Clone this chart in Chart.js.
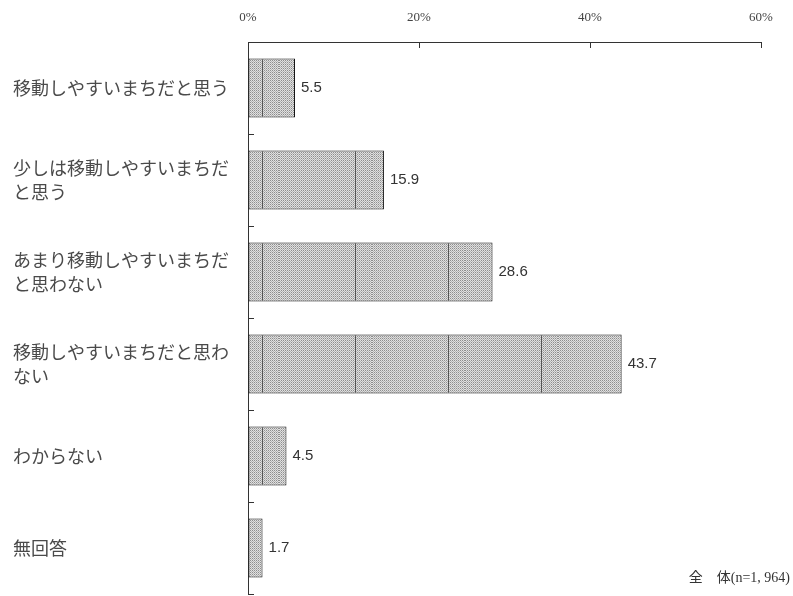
<!DOCTYPE html>
<html>
<head>
<meta charset="utf-8">
<script src="https://cdn.jsdelivr.net/npm/chart.js@4.4.1/dist/chart.umd.min.js"></script>
<style>
  html, body { margin: 0; padding: 0; background: #ffffff; }
  #wrap { width: 793px; height: 596px; position: relative; }
</style>
</head>
<body>
<div id="wrap"><canvas id="c" width="793" height="596"></canvas></div>
<script>
// ---- Data ----
const categories = [
  ["移動しやすいまちだと思う"],
  ["少しは移動しやすいまちだ", "と思う"],
  ["あまり移動しやすいまちだ", "と思わない"],
  ["移動しやすいまちだと思わ", "ない"],
  ["わからない"],
  ["無回答"]
];
const values = [5.5, 15.9, 28.6, 43.7, 4.5, 1.7];
const xTicks = [0, 20, 40, 60];
const caption = "全　体(n=1, 964)";

// ---- Pattern fill (fine gray dots with periodic vertical lines) ----
function makePattern(ctx) {
  const tw = 93, th = 2;
  const t = document.createElement('canvas');
  t.width = tw; t.height = th;
  const g = t.getContext('2d');
  g.fillStyle = '#e0e0e0';
  g.fillRect(0, 0, tw, th);
  g.fillStyle = '#8e8e8e';
  for (let x = 0; x < tw; x += 2) {
    g.fillRect(x, 0, 1, 1);
  }
  g.fillStyle = '#b4b4b4';
  for (let x = 1; x < tw; x += 2) {
    g.fillRect(x, 1, 1, 1);
  }
  g.fillStyle = '#555555';
  g.fillRect(76, 0, 1, th);
  return ctx.createPattern(t, 'repeat');
}

const canvas = document.getElementById('c');
const ctx = canvas.getContext('2d');
const pattern = makePattern(ctx);

const decorPlugin = {
  id: 'decor',
  afterDraw(chart) {
    const c = chart.ctx;
    const xs = chart.scales.x, ys = chart.scales.y;
    const area = chart.chartArea;
    c.save();
    c.strokeStyle = '#333333';
    c.lineWidth = 1;
    // inward ticks on top axis
    xTicks.forEach(v => {
      const px = Math.round(xs.getPixelForValue(v)) + 0.5;
      c.beginPath();
      c.moveTo(px, area.top);
      c.lineTo(px, area.top + 6);
      c.stroke();
    });
    // inward ticks on category axis (band boundaries)
    for (let i = 0; i <= categories.length; i++) {
      const py = Math.round(ys.getPixelForValue(i - 0.5)) + 0.5;
      c.beginPath();
      c.moveTo(area.left, py);
      c.lineTo(area.left + 6, py);
      c.stroke();
    }
    // value labels
    const meta = chart.getDatasetMeta(0);
    c.fillStyle = '#333333';
    c.font = '15px "Liberation Sans", Arial, sans-serif';
    c.textAlign = 'left';
    c.textBaseline = 'middle';
    meta.data.forEach((bar, i) => {
      c.fillText(values[i].toFixed(1), bar.x + 6, bar.y);
    });
    // caption
    c.fillStyle = '#333333';
    c.font = '14px "Liberation Serif", "Noto Sans CJK JP", serif';
    c.textAlign = 'right';
    c.textBaseline = 'middle';
    c.fillText(caption, 790, 578);
    c.restore();
  }
};

new Chart(canvas, {
  type: 'bar',
  data: {
    labels: categories,
    datasets: [{
      data: values,
      backgroundColor: pattern,
      borderColor: '#111111',
      borderWidth: 1,
      borderSkipped: false,
      barPercentage: 0.64,
      categoryPercentage: 1.0
    }]
  },
  options: {
    indexAxis: 'y',
    responsive: false,
    animation: false,
    devicePixelRatio: 1,
    layout: { padding: { left: 13, right: 32, top: 0, bottom: 2 } },
    plugins: { legend: { display: false }, tooltip: { enabled: false } },
    scales: {
      x: {
        position: 'top',
        min: 0,
        max: 60,
        afterFit(scale) { scale.height = 42; scale.paddingLeft = 0; scale.paddingRight = 0; },
        afterBuildTicks(scale) { scale.ticks = xTicks.map(v => ({ value: v })); },
        grid: { display: true, drawOnChartArea: false, drawTicks: false },
        border: { display: true, color: '#333333', width: 1 },
        ticks: {
          padding: 17,
          color: '#444444',
          font: { family: '"Liberation Serif", "Times New Roman", serif', size: 13 },
          callback: v => v + '%'
        }
      },
      y: {
        position: 'left',
        afterFit(scale) { scale.width = 235; scale.paddingTop = 0; scale.paddingBottom = 0; },
        grid: { display: true, drawOnChartArea: false, drawTicks: false },
        border: { display: true, color: '#333333', width: 1 },
        ticks: {
          crossAlign: 'far',
          padding: 0,
          color: '#4a4a4a',
          font: { family: '"Noto Sans CJK JP", sans-serif', size: 18, lineHeight: 1.33 }
        }
      }
    }
  },
  plugins: [decorPlugin]
});
</script>
</body>
</html>
